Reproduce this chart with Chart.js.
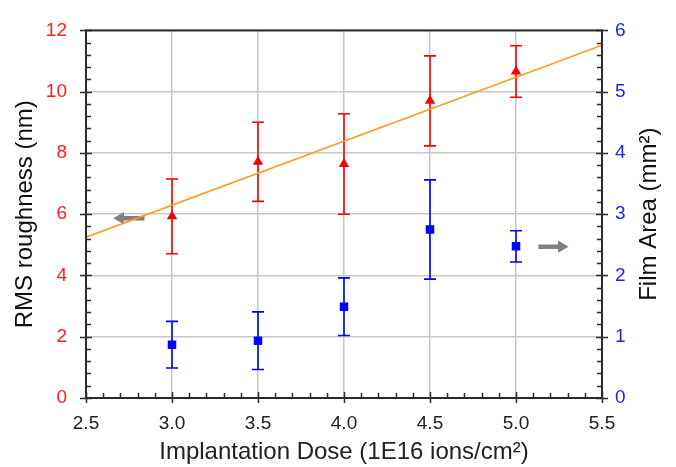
<!DOCTYPE html>
<html>
<head>
<meta charset="utf-8">
<script src="https://cdn.jsdelivr.net/npm/chart.js@4.4.1/dist/chart.umd.min.js"></script>
<style>
html,body{margin:0;padding:0;background:#fff;}
#wrap{width:676px;height:467px;position:relative;}
</style>
</head>
<body>
<div id="wrap"><canvas id="c"></canvas></div>
<script>
// ---- data ----
const doses = [3.0, 3.5, 4.0, 4.5, 5.0];
const roughness = [5.93, 7.71, 7.64, 9.70, 10.66];      // nm, left axis
const roughnessErr = [1.22, 1.29, 1.64, 1.47, 0.84];
const filmArea = [0.87, 0.935, 1.49, 2.75, 2.475];      // mm², right axis
const filmAreaErr = [0.38, 0.47, 0.47, 0.81, 0.255];
const fitX = [2.5, 5.5];
const fitY = [5.25, 11.52];
const leftArrowX = [2.84, 2.70];
const leftArrowY = [5.87, 5.87];
const rightArrowX = [5.13, 5.265];
const rightArrowY = [2.47, 2.47];
const xTickLabels = ['2.5','3.0','3.5','4.0','4.5','5.0','5.5'];
const yLeftTicks = [0, 2, 4, 6, 8, 10, 12];
const yRightTicks = [0, 1, 2, 3, 4, 5, 6];
const xTitle = 'Implantation Dose (1E16 ions/cm²)';
const yLeftTitle = 'RMS roughness (nm)';
const yRightTitle = 'Film Area (mm²)';

const RED = 'rgb(255,0,0)';
const BLUE = 'rgb(0,0,255)';
const AXIS = '#2b2b2b';

const pts = (xs, ys) => xs.map((x, i) => ({x: x, y: ys[i]}));

const errorBars = {
  id: 'errorBars',
  beforeDatasetsDraw(chart) {
    const ctx = chart.ctx;
    const xs = chart.scales.x;
    const sets = [
      {scale: chart.scales.y, vals: roughness, errs: roughnessErr, color: RED},
      {scale: chart.scales.y1, vals: filmArea, errs: filmAreaErr, color: BLUE}
    ];
    ctx.save();
    ctx.lineWidth = 1.6;
    sets.forEach(s => {
      ctx.strokeStyle = s.color;
      doses.forEach((d, i) => {
        const px = xs.getPixelForValue(d);
        const top = s.scale.getPixelForValue(s.vals[i] + s.errs[i]);
        const bot = s.scale.getPixelForValue(s.vals[i] - s.errs[i]);
        ctx.beginPath();
        ctx.moveTo(px, top); ctx.lineTo(px, bot);
        ctx.moveTo(px - 6, top); ctx.lineTo(px + 6, top);
        ctx.moveTo(px - 6, bot); ctx.lineTo(px + 6, bot);
        ctx.stroke();
      });
    });
    ctx.restore();
  }
};

const frameTicks = {
  id: 'frameTicks',
  afterDraw(chart) {
    const ctx = chart.ctx;
    const a = chart.chartArea;
    const xs = chart.scales.x, yl = chart.scales.y, yr = chart.scales.y1;
    ctx.save();
    ctx.strokeStyle = AXIS;
    ctx.lineWidth = 1.5;
    ctx.beginPath();
    for (let k = 0; k <= 30; k++) {
      const v = 2.5 + k * 0.1;
      const px = Math.round(xs.getPixelForValue(v)) + 0.5;
      if (k % 5 === 0) { ctx.moveTo(px, a.bottom - 6); ctx.lineTo(px, a.bottom + 5); }
      else { ctx.moveTo(px, a.bottom - 5); ctx.lineTo(px, a.bottom); }
    }
    for (let k = 0; k <= 30; k++) {
      const v = k * 0.4;
      const py = Math.round(yl.getPixelForValue(v)) + 0.5;
      if (k % 5 === 0) { ctx.moveTo(a.left - 6, py); ctx.lineTo(a.left + 6, py); }
      else { ctx.moveTo(a.left, py); ctx.lineTo(a.left + 5, py); }
    }
    for (let k = 0; k <= 30; k++) {
      const v = k * 0.2;
      const py = Math.round(yr.getPixelForValue(v)) + 0.5;
      if (k % 5 === 0) { ctx.moveTo(a.right - 6, py); ctx.lineTo(a.right + 6, py); }
      else { ctx.moveTo(a.right - 5, py); ctx.lineTo(a.right, py); }
    }
    ctx.stroke();
    ctx.lineWidth = 2;
    ctx.strokeRect(a.left, a.top, a.right - a.left, a.bottom - a.top);
    // right axis title, reading bottom-to-top
    ctx.fillStyle = '#111';
    ctx.font = '24px "Liberation Sans"';
    ctx.textAlign = 'center';
    ctx.textBaseline = 'middle';
    ctx.translate(yr.right - 27, (a.top + a.bottom) / 2);
    ctx.rotate(-Math.PI / 2);
    ctx.fillText(yRightTitle, 0, 0);
    ctx.restore();
  }
};

new Chart(document.getElementById('c'), {
  type: 'scatter',
  data: {
    datasets: [
      {
        label: 'RMS roughness',
        data: pts(doses, roughness),
        yAxisID: 'y',
        pointStyle: 'triangle',
        pointRadius: 6,
        backgroundColor: RED,
        borderColor: RED,
        borderWidth: 0,
        showLine: false
      },
      {
        label: 'Film Area',
        data: pts(doses, filmArea),
        yAxisID: 'y1',
        pointStyle: 'rect',
        pointRadius: 6,
        backgroundColor: BLUE,
        borderColor: BLUE,
        borderWidth: 0,
        showLine: false
      },
      {
        label: 'fit',
        data: pts(fitX, fitY),
        yAxisID: 'y',
        showLine: true,
        borderColor: '#ff9a1a',
        borderWidth: 1.5,
        pointRadius: 0,
        tension: 0
      },
      {
        label: 'arrowL',
        data: pts(leftArrowX, leftArrowY),
        yAxisID: 'y',
        showLine: true,
        borderColor: '#808080',
        backgroundColor: '#808080',
        borderWidth: 4.5,
        pointStyle: 'triangle',
        pointRadius: [0, 7],
        rotation: [0, -90],
        pointBorderWidth: 0
      },
      {
        label: 'arrowR',
        data: pts(rightArrowX, rightArrowY),
        yAxisID: 'y1',
        showLine: true,
        borderColor: '#808080',
        backgroundColor: '#808080',
        borderWidth: 4.5,
        pointStyle: 'triangle',
        pointRadius: [0, 7],
        rotation: [0, 90],
        pointBorderWidth: 0
      }
    ]
  },
  options: {
    responsive: true,
    maintainAspectRatio: false,
    animation: false,
    events: [],
    layout: {padding: {top: 19, left: 0, right: 0, bottom: 0}},
    plugins: {legend: {display: false}, tooltip: {enabled: false}},
    scales: {
      x: {
        type: 'linear',
        min: 2.5, max: 5.5,
        afterBuildTicks: s => { s.ticks = xTickLabels.map(t => ({value: parseFloat(t)})); },
        afterFit: s => { s.height = 69; },
        ticks: {
          callback: (v, i) => xTickLabels[i],
          color: '#222',
          font: {family: 'Liberation Sans', size: 19},
          padding: 14,
          maxRotation: 0,
          autoSkip: false
        },
        grid: {color: '#c8c8c8', lineWidth: 1.5, drawTicks: false},
        border: {display: false},
        title: {
          display: true,
          text: xTitle,
          color: '#222',
          font: {family: 'Liberation Sans', size: 24},
          padding: {top: 0, bottom: 0}
        }
      },
      y: {
        type: 'linear',
        position: 'left',
        min: 0, max: 12,
        afterBuildTicks: s => { s.ticks = yLeftTicks.map(v => ({value: v})); },
        afterFit: s => { s.width = 86; },
        ticks: {
          color: 'rgb(255,30,30)',
          font: {family: 'Liberation Sans', size: 19},
          padding: 19
        },
        grid: {color: '#c8c8c8', lineWidth: 1.5, drawTicks: false},
        border: {display: false},
        title: {
          display: true,
          text: yLeftTitle,
          color: '#111',
          font: {family: 'Liberation Sans', size: 24},
          padding: {top: 11, bottom: 0}
        }
      },
      y1: {
        type: 'linear',
        position: 'right',
        min: 0, max: 6,
        afterBuildTicks: s => { s.ticks = yRightTicks.map(v => ({value: v})); },
        afterFit: s => { s.width = 74; },
        ticks: {
          color: 'rgb(30,30,255)',
          font: {family: 'Liberation Sans', size: 19},
          padding: 13
        },
        grid: {display: false, drawTicks: false},
        border: {display: false},
        title: {display: false}
      }
    }
  },
  plugins: [errorBars, frameTicks]
});
</script>
</body>
</html>
